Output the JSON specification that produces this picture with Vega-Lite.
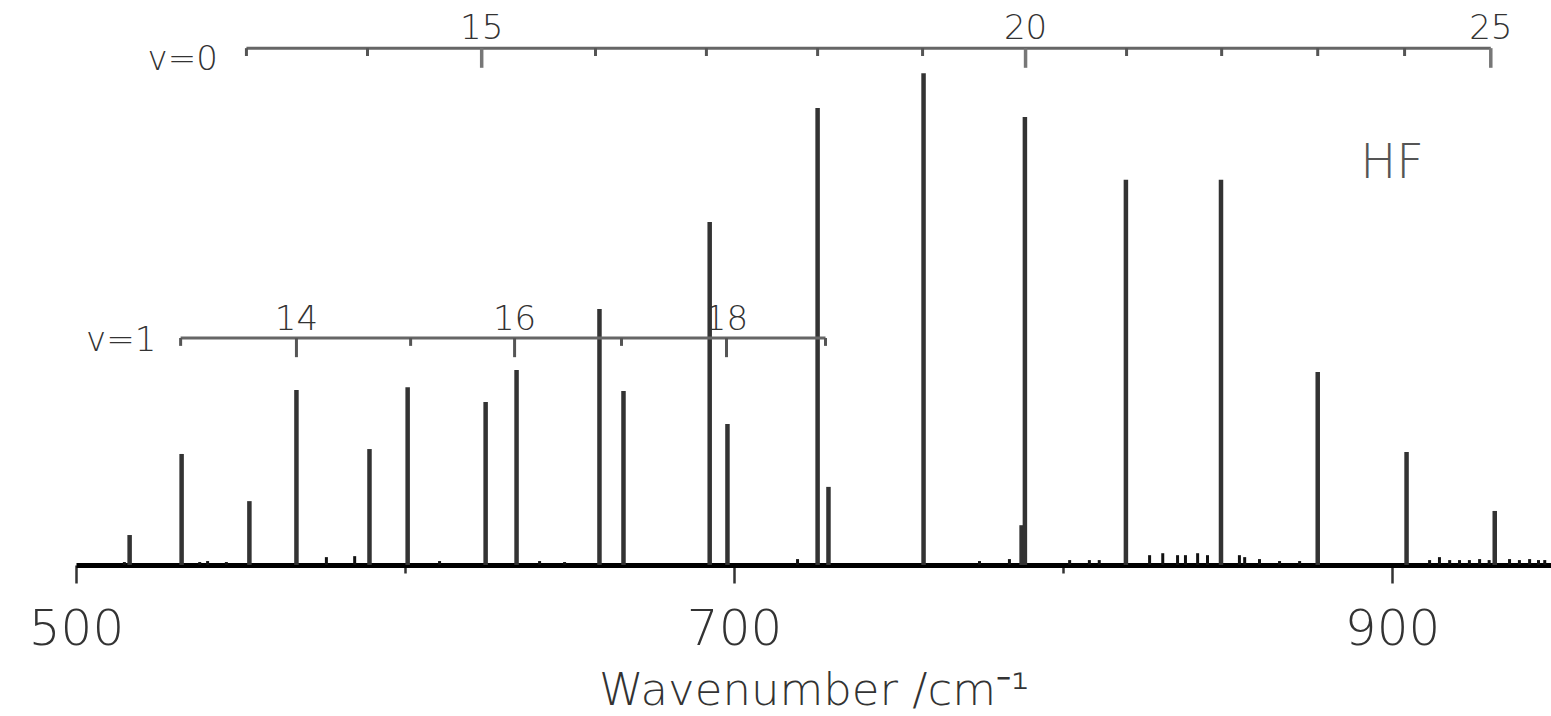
{
  "$schema": "https://vega.github.io/schema/vega-lite/v6.json",
  "width": 1475,
  "height": 565,
  "autosize": {"type": "none"},
  "padding": {"left": 76, "top": 0, "right": 0, "bottom": 151},
  "background": "white",
  "config": {"view": {"stroke": null}, "font": "DejaVu Sans"},
  "datasets": {
    "peaks": [
      {"wn": 516.3, "intensity": 6.1},
      {"wn": 532.1, "intensity": 22.6},
      {"wn": 552.7, "intensity": 13.0},
      {"wn": 567.0, "intensity": 35.6},
      {"wn": 589.2, "intensity": 23.6},
      {"wn": 600.8, "intensity": 36.2},
      {"wn": 624.5, "intensity": 33.2},
      {"wn": 633.9, "intensity": 39.7},
      {"wn": 659.1, "intensity": 52.1},
      {"wn": 666.4, "intensity": 35.4},
      {"wn": 692.6, "intensity": 69.8},
      {"wn": 698.0, "intensity": 28.7},
      {"wn": 725.4, "intensity": 93.0},
      {"wn": 728.7, "intensity": 15.9},
      {"wn": 757.6, "intensity": 100.1},
      {"wn": 787.4, "intensity": 8.1},
      {"wn": 788.4, "intensity": 91.2},
      {"wn": 819.1, "intensity": 78.4},
      {"wn": 848.0, "intensity": 78.4},
      {"wn": 877.4, "intensity": 39.3},
      {"wn": 904.4, "intensity": 23.0},
      {"wn": 931.2, "intensity": 11.0}
    ],
    "noise": [
      {"wn": 514.7, "intensity": 0.6},
      {"wn": 537.6, "intensity": 0.6},
      {"wn": 540.0, "intensity": 0.8},
      {"wn": 545.7, "intensity": 0.6},
      {"wn": 576.1, "intensity": 1.6},
      {"wn": 584.7, "intensity": 1.8},
      {"wn": 610.5, "intensity": 0.8},
      {"wn": 640.9, "intensity": 0.8},
      {"wn": 648.5, "intensity": 0.6},
      {"wn": 719.3, "intensity": 1.2},
      {"wn": 774.6, "intensity": 0.8},
      {"wn": 783.7, "intensity": 1.2},
      {"wn": 802.0, "intensity": 1.0},
      {"wn": 808.0, "intensity": 1.0},
      {"wn": 811.0, "intensity": 1.0},
      {"wn": 826.3, "intensity": 2.0},
      {"wn": 830.3, "intensity": 2.4},
      {"wn": 834.8, "intensity": 2.0},
      {"wn": 837.2, "intensity": 2.0},
      {"wn": 840.9, "intensity": 2.4},
      {"wn": 843.9, "intensity": 2.0},
      {"wn": 853.6, "intensity": 2.0},
      {"wn": 855.2, "intensity": 1.6},
      {"wn": 859.7, "intensity": 1.2},
      {"wn": 865.8, "intensity": 0.8},
      {"wn": 871.9, "intensity": 0.8},
      {"wn": 911.4, "intensity": 1.0},
      {"wn": 914.4, "intensity": 1.6},
      {"wn": 917.5, "intensity": 1.0},
      {"wn": 920.5, "intensity": 1.0},
      {"wn": 923.5, "intensity": 1.0},
      {"wn": 926.6, "intensity": 1.2},
      {"wn": 929.5, "intensity": 1.0},
      {"wn": 935.7, "intensity": 1.2},
      {"wn": 938.7, "intensity": 1.0},
      {"wn": 941.8, "intensity": 1.2},
      {"wn": 944.5, "intensity": 1.0},
      {"wn": 946.4, "intensity": 1.0}
    ],
    "ladder": [
      {"v": 0, "J": 13, "wn": 551.8},
      {"v": 0, "J": 14, "wn": 588.6},
      {"v": 0, "J": 15, "wn": 623.3},
      {"v": 0, "J": 16, "wn": 657.9},
      {"v": 0, "J": 17, "wn": 691.6},
      {"v": 0, "J": 18, "wn": 725.4},
      {"v": 0, "J": 19, "wn": 757.3},
      {"v": 0, "J": 20, "wn": 788.6},
      {"v": 0, "J": 21, "wn": 819.3},
      {"v": 0, "J": 22, "wn": 848.2},
      {"v": 0, "J": 23, "wn": 877.4},
      {"v": 0, "J": 24, "wn": 903.8},
      {"v": 0, "J": 25, "wn": 930.0},
      {"v": 1, "J": 13, "wn": 531.8},
      {"v": 1, "J": 14, "wn": 567.0},
      {"v": 1, "J": 15, "wn": 601.7},
      {"v": 1, "J": 16, "wn": 633.3},
      {"v": 1, "J": 17, "wn": 665.8},
      {"v": 1, "J": 18, "wn": 697.7},
      {"v": 1, "J": 19, "wn": 727.8}
    ]
  },
  "layer": [
    {
      "data": {"name": "peaks"},
      "mark": {"type": "rule", "color": "#333333", "strokeWidth": 4.5},
      "encoding": {
        "x": {
          "field": "wn",
          "type": "quantitative",
          "scale": {"domain": [500, 948.3], "nice": false, "zero": false},
          "axis": {
            "values": [500, 600, 700, 800, 900],
            "labelExpr": "datum.value % 200 == 0 ? '' : datum.label",
            "tickSize": {"condition": {"test": "datum.value % 200 == 0", "value": 8}, "value": 18},
            "tickColor": "#333333",
            "tickWidth": 2.5,
            "domainColor": "#000000",
            "domainWidth": 5,
            "grid": false,
            "labelFontSize": 50,
            "labelFont": "DejaVu Sans",
            "labelFontWeight": 200,
            "labelColor": "#333333",
            "labelPadding": 21,
            "labelOverlap": false,
            "labelFlush": false,
            "title": "Wavenumber /cm⁻¹",
            "titleFont": "DejaVu Sans",
            "titleFontSize": 45,
            "titleFontWeight": 200,
            "titleColor": "#333333",
            "titleBaseline": "alphabetic",
            "titleY": 139
          }
        },
        "y": {
          "field": "intensity",
          "type": "quantitative",
          "scale": {"domain": [0, 115], "nice": false, "zero": true},
          "axis": null
        },
        "y2": {"datum": 0}
      }
    },
    {
      "data": {"name": "noise"},
      "mark": {"type": "rule", "color": "#111111", "strokeWidth": 3},
      "encoding": {
        "x": {"field": "wn", "type": "quantitative"},
        "y": {"field": "intensity", "type": "quantitative"},
        "y2": {"datum": 0}
      }
    },
    {
      "data": {"name": "ladder"},
      "transform": [
        {"filter": "datum.v == 0"},
        {"aggregate": [{"op": "min", "field": "wn", "as": "start"}, {"op": "max", "field": "wn", "as": "end"}]}
      ],
      "mark": {"type": "rule", "color": "#666666", "strokeWidth": 3},
      "encoding": {
        "x": {"field": "start", "type": "quantitative"},
        "x2": {"field": "end"},
        "y": {"datum": 105.2}
      }
    },
    {
      "data": {"name": "ladder"},
      "transform": [
        {"filter": "datum.v == 1"},
        {"aggregate": [{"op": "min", "field": "wn", "as": "start"}, {"op": "max", "field": "wn", "as": "end"}]}
      ],
      "mark": {"type": "rule", "color": "#666666", "strokeWidth": 3},
      "encoding": {
        "x": {"field": "start", "type": "quantitative"},
        "x2": {"field": "end"},
        "y": {"datum": 46.2}
      }
    },
    {
      "data": {"name": "ladder"},
      "transform": [{"filter": "datum.v == 0 && datum.J % 5 != 0"}],
      "mark": {"type": "rule", "color": "#555555", "strokeWidth": 3},
      "encoding": {
        "x": {"field": "wn", "type": "quantitative"},
        "y": {"datum": 105.2},
        "y2": {"datum": 103.6}
      }
    },
    {
      "data": {"name": "ladder"},
      "transform": [{"filter": "datum.v == 0 && datum.J % 5 == 0"}],
      "mark": {"type": "rule", "color": "#777777", "strokeWidth": 3.5},
      "encoding": {
        "x": {"field": "wn", "type": "quantitative"},
        "y": {"datum": 105.2},
        "y2": {"datum": 101.2}
      }
    },
    {
      "data": {"name": "ladder"},
      "transform": [{"filter": "datum.v == 1 && datum.J % 2 != 0"}],
      "mark": {"type": "rule", "color": "#555555", "strokeWidth": 3},
      "encoding": {
        "x": {"field": "wn", "type": "quantitative"},
        "y": {"datum": 46.2},
        "y2": {"datum": 44.6}
      }
    },
    {
      "data": {"name": "ladder"},
      "transform": [{"filter": "datum.v == 1 && datum.J % 2 == 0"}],
      "mark": {"type": "rule", "color": "#555555", "strokeWidth": 3},
      "encoding": {
        "x": {"field": "wn", "type": "quantitative"},
        "y": {"datum": 46.2},
        "y2": {"datum": 42.3}
      }
    },
    {
      "data": {"name": "ladder"},
      "transform": [{"filter": "datum.v == 0 && datum.J % 5 == 0"}],
      "mark": {"type": "text", "fontSize": 34, "fontWeight": 200, "color": "#333333", "align": "center", "baseline": "alphabetic"},
      "encoding": {
        "x": {"field": "wn", "type": "quantitative"},
        "y": {"datum": 107.1},
        "text": {"field": "J"}
      }
    },
    {
      "data": {"name": "ladder"},
      "transform": [{"filter": "datum.v == 1 && datum.J % 2 == 0 && datum.J > 13"}],
      "mark": {"type": "text", "fontSize": 34, "fontWeight": 200, "color": "#333333", "align": "center", "baseline": "alphabetic"},
      "encoding": {
        "x": {"field": "wn", "type": "quantitative"},
        "y": {"datum": 47.8},
        "text": {"field": "J"}
      }
    },
    {
      "data": {"values": [{"label": "v=0"}]},
      "mark": {"type": "text", "fontSize": 34, "fontWeight": 200, "color": "#333333", "align": "right", "baseline": "alphabetic"},
      "encoding": {
        "x": {"datum": 543.1},
        "y": {"datum": 100.75},
        "text": {"field": "label"}
      }
    },
    {
      "data": {"values": [{"label": "v=1"}]},
      "mark": {"type": "text", "fontSize": 34, "fontWeight": 200, "color": "#333333", "align": "right", "baseline": "alphabetic"},
      "encoding": {
        "x": {"datum": 524.4},
        "y": {"datum": 43.6},
        "text": {"field": "label"}
      }
    },
    {
      "data": {"values": [{"label": "HF"}]},
      "mark": {"type": "text", "fontSize": 48, "fontWeight": 200, "color": "#555555", "align": "center", "baseline": "alphabetic"},
      "encoding": {
        "x": {"datum": 900},
        "y": {"datum": 78.8},
        "text": {"field": "label"}
      }
    }
  ]
}
